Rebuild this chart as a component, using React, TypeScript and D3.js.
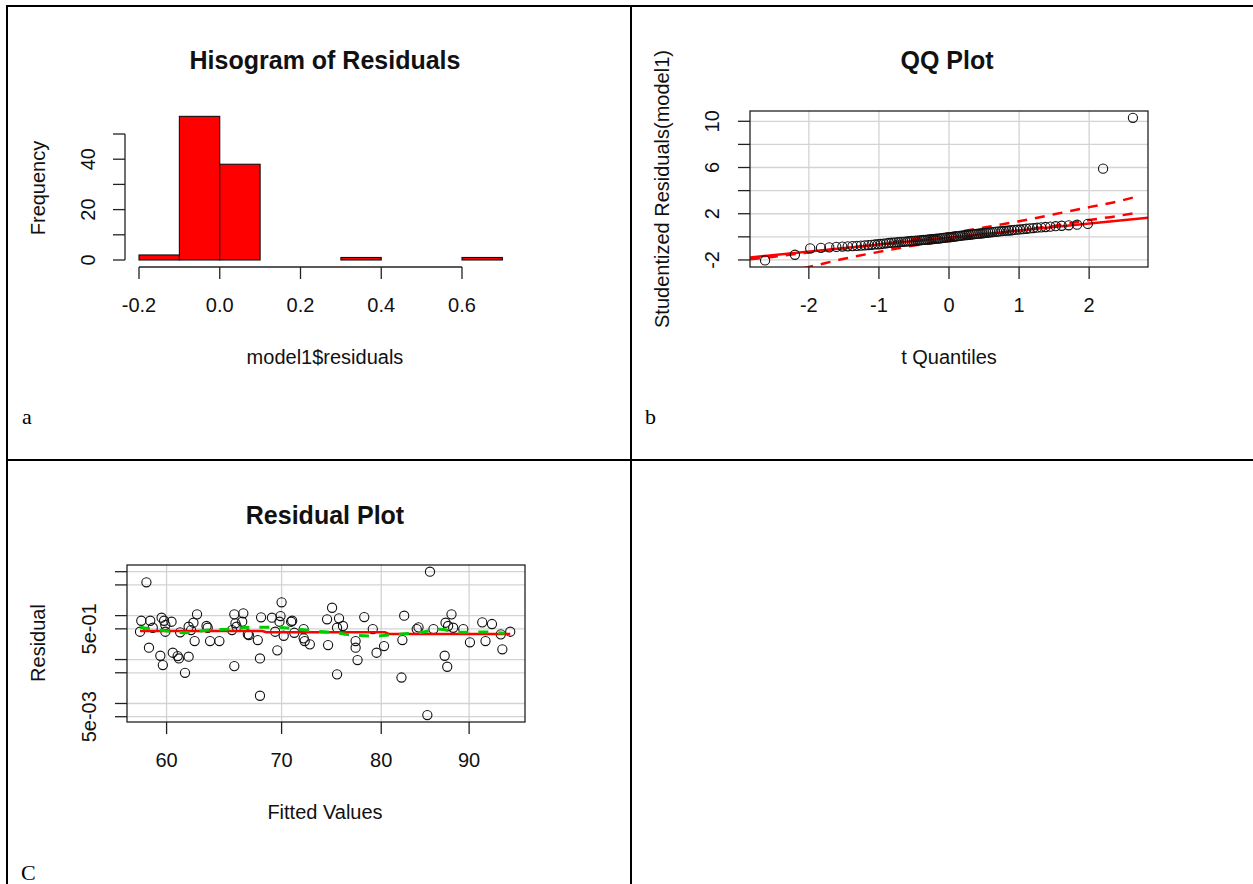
import React from "react";
import * as d3 from "d3";

// ---------- Histogram (panel a) ----------
const histBinEdges = [-0.2, -0.1, 0, 0.1, 0.2, 0.3, 0.4, 0.5, 0.6, 0.7];
const histCounts = [2, 57, 38, 0, 0, 1, 0, 0, 1];
const histXTicks = [-0.2, 0, 0.2, 0.4, 0.6];
const histYTicks = [0, 10, 20, 30, 40, 50];
const histYLabels = [0, 20, 40];

// ---------- QQ plot (panel b) ----------
const qqStudentized = [
  -2.04, -1.55, -1.0, -0.95, -0.91, -0.87, -0.84, -0.82, -0.8, -0.78,
  -0.76, -0.73, -0.71, -0.69, -0.66, -0.64, -0.62, -0.59, -0.56, -0.53,
  -0.51, -0.5, -0.48, -0.46, -0.44, -0.43, -0.41, -0.39, -0.38, -0.36,
  -0.35, -0.33, -0.32, -0.3, -0.29, -0.27, -0.26, -0.24, -0.23, -0.21,
  -0.2, -0.18, -0.16, -0.15, -0.13, -0.11, -0.09, -0.07, -0.05, -0.04,
  -0.02, 0.0, 0.02, 0.04, 0.06, 0.08, 0.1, 0.12, 0.14, 0.16,
  0.18, 0.19, 0.21, 0.23, 0.25, 0.27, 0.29, 0.31, 0.33, 0.35,
  0.37, 0.39, 0.41, 0.43, 0.45, 0.47, 0.49, 0.51, 0.53, 0.55,
  0.57, 0.6, 0.62, 0.64, 0.67, 0.7, 0.73, 0.76, 0.79, 0.82,
  0.85, 0.88, 0.92, 0.96, 1.0, 1.05, 1.12, 5.9, 10.3,
];
const qqDf = 95;
const qqXTicks = [-2, -1, 0, 1, 2];
const qqYTicks = [-2, 0, 2, 4, 6, 8, 10];
const qqYLabels = [-2, 2, 6, 10];
const qqLineX = [-2.84, 2.84];
const qqLineY = [-1.78, 1.66];
const envX = [-2.84, -2.4, -2.0, -1.5, -1.0, -0.5, 0, 0.5, 1.0, 1.5, 2.0, 2.4, 2.64];
const envUpper = [-1.95, -1.65, -1.35, -1.0, -0.65, -0.2, 0.3, 0.8, 1.35, 1.95, 2.57, 3.05, 3.42];
const envLower = [-3.5, -3.1, -2.6, -1.9, -1.3, -0.75, -0.3, 0.15, 0.55, 0.95, 1.45, 1.8, 2.05];

// ---------- Residual plot (panel c) ----------
const fittedValues = [
  58.4, 58.0, 57.9, 58.7, 58.6, 58.9, 59.5, 59.7, 59.6, 59.8, 59.9, 59.9, 60.4, 60.5, 60.9, 61.0, 61.1, 61.5, 61.8, 61.8,
  62.0, 62.3, 62.2, 62.5, 63.3, 63.4, 63.6, 64.4, 65.7, 65.7, 65.8, 65.9, 65.5, 66.5, 66.4, 66.9, 67.0, 67.8, 68.0, 68.0, 68.1,
  70.0, 69.9, 69.1, 69.8, 69.4, 70.2, 69.6, 71.0, 70.9, 71.2, 72.1, 72.1, 72.2, 72.7, 74.4, 74.9, 75.6, 75.4, 76.0, 74.5,
  75.4, 77.3, 77.3, 77.5, 78.2, 79.1, 79.5, 80.3, 82.5, 82.3, 82.2, 83.9, 84.1, 85.4, 85.1, 85.8, 87.2, 87.9, 87.5, 88.1,
  89.3, 87.1, 87.4, 90.1, 91.6, 92.0, 92.8, 93.9, 94.1, 95.1,
];
const residualValues = [
  5.73, 0.765, 0.43, 0.765, 0.186, 0.53, 0.122, 0.075, 0.896, 0.765, 0.611, 0.43, 0.726, 0.143, 0.12, 0.106, 0.417, 0.05, 0.116, 0.559,
  0.47, 0.264, 0.689, 1.07, 0.58, 0.53, 0.264, 0.264, 0.071, 1.07, 0.668, 0.559, 0.47, 1.13, 0.726, 0.375, 0.361, 0.278, 0.106, 0.015, 0.915,
  2.01, 0.979, 0.896, 0.726, 0.43, 0.348, 0.162, 0.765, 0.726, 0.407, 0.495, 0.304, 0.264, 0.222, 0.824, 1.51, 0.868, 0.53, 0.58, 0.214,
  0.046, 0.264, 0.186, 0.0975, 0.929, 0.495, 0.143, 0.203, 0.995, 0.278, 0.039, 0.495, 0.541, 10.0, 0.00545, 0.495, 0.689, 1.07, 0.58, 0.53,
  0.495, 0.122, 0.0686, 0.247, 0.703, 0.264, 0.644, 0.375, 0.171, 0.43,
];
const redFitX = [57.9, 68.2, 68.6, 80.4, 80.8, 95.1];
const redFitY = [0.447, 0.447, 0.418, 0.418, 0.382, 0.382];
const greenSmoothX = [57.9, 59.9, 61.6, 63.4, 65.4, 67.2, 69.1, 71.2, 73.2, 75.2, 77.3, 79.4, 81.7, 84.1, 86.5, 88.9, 91.9, 94.4];
const greenSmoothY = [0.541, 0.453, 0.407, 0.47, 0.495, 0.541, 0.541, 0.504, 0.446, 0.407, 0.356, 0.343, 0.375, 0.407, 0.488, 0.417, 0.424, 0.395];
const resXTicks = [60, 70, 80, 90];
const resYTicks = [10, 5, 1, 0.5, 0.1, 0.05, 0.01, 0.005];
const resYLabelVals = [0.5, 0.005];
const resYLabelText = ["5e-01", "5e-03"];

// ---------- helpers ----------
function qnorm(p: number): number {
  const a = [-3.969683028665376e1, 2.209460984245205e2, -2.759285104469687e2, 1.38357751867269e2, -3.066479806614716e1, 2.506628277459239];
  const b = [-5.447609879822406e1, 1.615858368580409e2, -1.556989798598866e2, 6.680131188771972e1, -1.328068155288572e1];
  const c = [-7.784894002430293e-3, -3.223964580411365e-1, -2.400758277161838, -2.549732539343734, 4.374664141464968, 2.938163982698783];
  const d = [7.784695709041462e-3, 3.224671290700398e-1, 2.445134137142996, 3.754408661907416];
  const pl = 0.02425;
  if (p < pl) {
    const q = Math.sqrt(-2 * Math.log(p));
    return (((((c[0] * q + c[1]) * q + c[2]) * q + c[3]) * q + c[4]) * q + c[5]) / ((((d[0] * q + d[1]) * q + d[2]) * q + d[3]) * q + 1);
  }
  if (p <= 1 - pl) {
    const q = p - 0.5, r = q * q;
    return ((((((a[0] * r + a[1]) * r + a[2]) * r + a[3]) * r + a[4]) * r + a[5]) * q) / (((((b[0] * r + b[1]) * r + b[2]) * r + b[3]) * r + b[4]) * r + 1);
  }
  const q = Math.sqrt(-2 * Math.log(1 - p));
  return -(((((c[0] * q + c[1]) * q + c[2]) * q + c[3]) * q + c[4]) * q + c[5]) / ((((d[0] * q + d[1]) * q + d[2]) * q + d[3]) * q + 1);
}
function qt(p: number, df: number): number {
  const z = qnorm(p);
  const z3 = z * z * z, z5 = z3 * z * z;
  return z + (z3 + z) / (4 * df) + (5 * z5 + 16 * z3 + 3 * z) / (96 * df * df);
}

const SANS = "'Liberation Sans', Arial, sans-serif";
const SERIF = "'Liberation Serif', 'Times New Roman', serif";
const AXIS = "#222";
const GRID = "#d3d3d3";
const PT_R = 4.6;

const VText = ({ x, y, children, size = 20 }: any) => (
  <text transform={`translate(${x},${y}) rotate(-90)`} textAnchor="middle" dy="0.35em" fontFamily={SANS} fontSize={size} fill="#111">
    {children}
  </text>
);
const HText = ({ x, y, children, size = 20, bold = false }: any) => (
  <text x={x} y={y} textAnchor="middle" dy="0.35em" fontFamily={SANS} fontSize={size} fontWeight={bold ? "bold" : "normal"} fill="#111">
    {children}
  </text>
);

function Histogram() {
  const x = d3.scaleLinear().domain([-0.2, 0.6]).range([139, 462]);
  const y = d3.scaleLinear().domain([0, 50]).range([260, 134]);
  const axisY = 267, axisX = 125, tick = 12;
  return (
    <g>
      <HText x={325} y={60} size={25} bold>Hisogram of Residuals</HText>
      {histCounts.map((c, i) => (
        <rect key={i} x={x(histBinEdges[i])} y={y(c)} width={x(histBinEdges[i + 1]) - x(histBinEdges[i])} height={y(0) - y(c)}
          fill="#ff0000" stroke="#111" strokeWidth={1.1} />
      ))}
      <line x1={axisX} x2={axisX} y1={y(0)} y2={y(50)} stroke={AXIS} strokeWidth={1.3} />
      {histYTicks.map((t) => (
        <line key={t} x1={axisX - tick} x2={axisX} y1={y(t)} y2={y(t)} stroke={AXIS} strokeWidth={1.3} />
      ))}
      {histYLabels.map((t) => (
        <VText key={t} x={88} y={y(t)}>{String(t)}</VText>
      ))}
      <line x1={x(-0.2)} x2={x(0.6)} y1={axisY} y2={axisY} stroke={AXIS} strokeWidth={1.3} />
      {histXTicks.map((t) => (
        <g key={t}>
          <line x1={x(t)} x2={x(t)} y1={axisY} y2={axisY + tick} stroke={AXIS} strokeWidth={1.3} />
          <HText x={x(t)} y={305}>{d3.format(".1f")(t).replace("−", "-")}</HText>
        </g>
      ))}
      <HText x={325} y={357}>model1$residuals</HText>
      <VText x={38} y={188}>Frequency</VText>
    </g>
  );
}

function QQPlot() {
  const L = 750, R = 1148, T = 111, B = 267;
  const x = d3.scaleLinear().domain([-2.84, 2.84]).range([L, R]);
  const y = d3.scaleLinear().domain([-2.61, 10.89]).range([B, T]);
  const n = qqStudentized.length;
  const pts = qqStudentized.map((v, i) => ({ q: qt((i + 1 - 0.5) / n, qqDf), v }));
  const line = d3.line<number>().x((_, i) => x(envX[i])).y((d) => y(d)).curve(d3.curveMonotoneX);
  const tick = 12;
  return (
    <g>
      <defs>
        <clipPath id="qqclip"><rect x={L} y={T} width={R - L} height={B - T} /></clipPath>
      </defs>
      <HText x={947} y={60} size={25} bold>QQ Plot</HText>
      {qqXTicks.map((t) => <line key={"gx" + t} x1={x(t)} x2={x(t)} y1={T} y2={B} stroke={GRID} strokeWidth={1.3} />)}
      {qqYTicks.map((t) => <line key={"gy" + t} x1={L} x2={R} y1={y(t)} y2={y(t)} stroke={GRID} strokeWidth={1.3} />)}
      <g clipPath="url(#qqclip)">
        <line x1={x(qqLineX[0])} x2={x(qqLineX[1])} y1={y(qqLineY[0])} y2={y(qqLineY[1])} stroke="#ff0000" strokeWidth={2.5} />
        <path d={line(envUpper) || ""} fill="none" stroke="#ff0000" strokeWidth={2.5} strokeDasharray="10,8" />
        <path d={line(envLower) || ""} fill="none" stroke="#ff0000" strokeWidth={2.5} strokeDasharray="10,8" />
        {pts.map((p, i) => (
          <circle key={i} cx={x(p.q)} cy={y(p.v)} r={PT_R} fill="none" stroke="#111" strokeWidth={1.1} />
        ))}
      </g>
      <rect x={L} y={T} width={R - L} height={B - T} fill="none" stroke={AXIS} strokeWidth={1.3} />
      {qqXTicks.map((t) => (
        <g key={"tx" + t}>
          <line x1={x(t)} x2={x(t)} y1={B} y2={B + tick} stroke={AXIS} strokeWidth={1.3} />
          <HText x={x(t)} y={305}>{String(t)}</HText>
        </g>
      ))}
      {qqYTicks.map((t) => <line key={"ty" + t} x1={L - tick} x2={L} y1={y(t)} y2={y(t)} stroke={AXIS} strokeWidth={1.3} />)}
      {qqYLabels.map((t) => <VText key={"ly" + t} x={712} y={y(t)}>{String(t)}</VText>)}
      <HText x={949} y={357}>t Quantiles</HText>
      <VText x={662} y={189}>Studentized Residuals(model1)</VText>
    </g>
  );
}

function ResidualPlot() {
  const L = 127, R = 525, T = 565, B = 722;
  const x = d3.scaleLog().domain([56.9, 97.0]).range([L, R]);
  const y = d3.scaleLog().domain([0.00379, 14.2]).range([B, T]);
  const tick = 12;
  const red = d3.line<number>().x((_, i) => x(redFitX[i])).y((d) => y(d));
  const green = d3.line<number>().x((_, i) => x(greenSmoothX[i])).y((d) => y(d)).curve(d3.curveMonotoneX);
  return (
    <g>
      <defs>
        <clipPath id="resclip"><rect x={L} y={T} width={R - L} height={B - T} /></clipPath>
      </defs>
      <HText x={325} y={515} size={25} bold>Residual Plot</HText>
      {resXTicks.map((t) => <line key={"gx" + t} x1={x(t)} x2={x(t)} y1={T} y2={B} stroke={GRID} strokeWidth={1.3} />)}
      {resYTicks.map((t) => <line key={"gy" + t} x1={L} x2={R} y1={y(t)} y2={y(t)} stroke={GRID} strokeWidth={1.3} />)}
      <g clipPath="url(#resclip)">
        {fittedValues.map((f, i) => (
          <circle key={i} cx={x(f)} cy={y(residualValues[i])} r={PT_R} fill="none" stroke="#111" strokeWidth={1.1} />
        ))}
        <path d={red(redFitY) || ""} fill="none" stroke="#ff0000" strokeWidth={2.5} />
        <path d={green(greenSmoothY) || ""} fill="none" stroke="#00cd00" strokeWidth={3} strokeDasharray="10,10" />
      </g>
      <rect x={L} y={T} width={R - L} height={B - T} fill="none" stroke={AXIS} strokeWidth={1.3} />
      {resXTicks.map((t) => (
        <g key={"tx" + t}>
          <line x1={x(t)} x2={x(t)} y1={B} y2={B + tick} stroke={AXIS} strokeWidth={1.3} />
          <HText x={x(t)} y={760}>{String(t)}</HText>
        </g>
      ))}
      {resYTicks.map((t) => <line key={"ty" + t} x1={L - tick} x2={L} y1={y(t)} y2={y(t)} stroke={AXIS} strokeWidth={1.3} />)}
      {resYLabelVals.map((t, i) => <VText key={"ly" + t} x={89} y={y(t)}>{resYLabelText[i]}</VText>)}
      <HText x={325} y={812}>Fitted Values</HText>
      <VText x={38} y={643}>Residual</VText>
    </g>
  );
}

export default function App() {
  const W = 1253, H = 884;
  return (
    <svg width={W} height={H} viewBox={`0 0 ${W} ${H}`} style={{ position: "absolute", left: 0, top: 0, background: "#fff" }}>
      <rect x={0} y={0} width={W} height={H} fill="#fff" />
      {/* table borders */}
      <line x1={6} x2={W} y1={6} y2={6} stroke="#000" strokeWidth={2} />
      <line x1={7} x2={7} y1={5} y2={H} stroke="#000" strokeWidth={2} />
      <line x1={631} x2={631} y1={5} y2={H} stroke="#000" strokeWidth={2} />
      <line x1={6} x2={W} y1={460} y2={460} stroke="#000" strokeWidth={2} />
      <text x={22} y={424} fontFamily={SERIF} fontSize={22} fill="#000">a</text>
      <text x={645} y={424} fontFamily={SERIF} fontSize={22} fill="#000">b</text>
      <text x={21} y={880} fontFamily={SERIF} fontSize={22} fill="#000">C</text>
      <Histogram />
      <QQPlot />
      <ResidualPlot />
    </svg>
  );
}
